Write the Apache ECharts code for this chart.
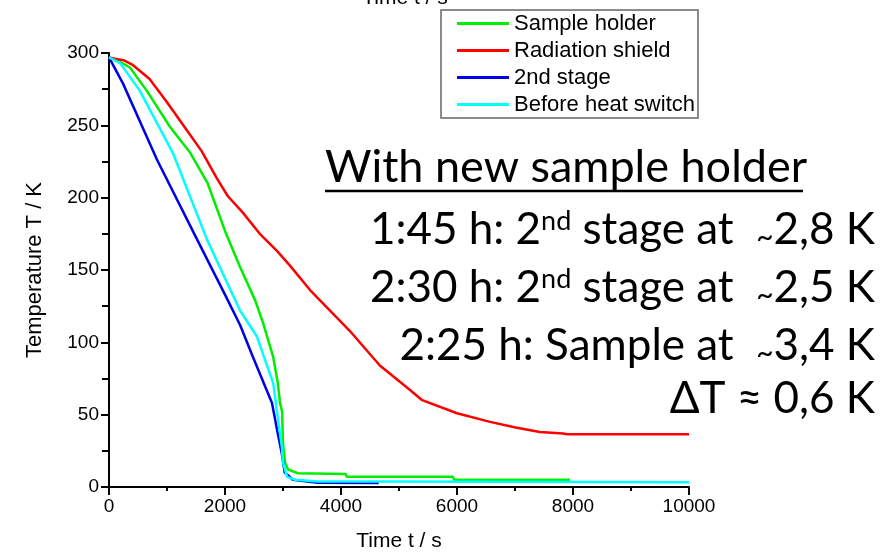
<!DOCTYPE html>
<html>
<head>
<meta charset="utf-8">
<script src="https://cdn.jsdelivr.net/npm/echarts@6/dist/echarts.min.js"></script>
<style>
  html, body { margin: 0; padding: 0; background: #fff; }
  #chart { width: 880px; height: 552px; }
</style>
</head>
<body>
<div id="chart"></div>
<script>
// series names, legend order
const seriesNames = ["Sample holder", "Radiation shield", "2nd stage", "Before heat switch"];

// [time in s, temperature in K]
const sampleHolder = [
    [0, 297], [140, 295], [360, 290], [650, 274], [1050, 249], [1400, 231],
    [1700, 210], [2000, 177], [2250, 153], [2520, 129], [2660, 113], [2830, 90],
    [2910, 72], [2950, 58], [2985, 52], [3000, 30], [3035, 17], [3090, 12],
    [3260, 9.5], [4080, 9], [4100, 7], [5930, 7], [5950, 5], [7950, 5]
];
const radiationShield = [
    [0, 297], [100, 296], [250, 295], [400, 292], [700, 282], [1000, 266],
    [1300, 249], [1600, 232], [1850, 214], [2050, 201], [2300, 190], [2600, 175],
    [2900, 163], [3120, 153], [3470, 136], [3810, 122], [4150, 108], [4670, 84],
    [5190, 67], [5400, 60], [6000, 51], [6570, 45], [7030, 41], [7430, 38],
    [7830, 37], [7900, 36.5], [10000, 36.5]
];
const secondStage = [
    [0, 297], [240, 279], [830, 226], [1520, 171], [2000, 133], [2260, 112],
    [2480, 90], [2810, 58], [2900, 39], [2980, 23], [3030, 10], [3170, 5],
    [3600, 3], [4650, 2.8]
];
const beforeHeatSwitch = [
    [0, 297], [190, 293], [530, 274], [1100, 231], [1690, 171], [2260, 122],
    [2550, 104], [2830, 72], [2910, 48], [2980, 28], [3000, 17], [3070, 7],
    [3210, 5], [3600, 3.8], [4700, 3.8], [4720, 3.3], [10000, 3.3]
];

const colors = ["#00ee00", "#ff0000", "#0000e8", "#00ffff"];
const allData = [sampleHolder, radiationShield, secondStage, beforeHeatSwitch];

const axisFont = "'Liberation Sans', Arial, sans-serif";
const noteFont = "Lato, 'Open Sans', sans-serif";

let myChart = echarts.init(document.getElementById("chart"));

let option = {
    animation: false,
    grid: {
        left: 109,
        right: 191,
        top: 53,
        bottom: 65,
        outerBoundsMode: "none"
    },
    legend: {
        orient: "vertical",
        left: 441,
        top: 10,
        data: seriesNames,
        icon: "rect",
        itemWidth: 52,
        itemHeight: 3,
        itemGap: 0,
        padding: [0, 3, 0, 16],
        borderColor: "#666",
        borderWidth: 1.5,
        textStyle: {
            fontFamily: axisFont,
            fontSize: 22,
            lineHeight: 27,
            color: "#000"
        }
    },
    xAxis: {
        type: "value",
        min: 0,
        max: 10000,
        interval: 2000,
        name: "Time t / s",
        nameLocation: "middle",
        nameGap: 44,
        nameTextStyle: { fontFamily: axisFont, fontSize: 21, color: "#000" },
        axisLine: { lineStyle: { color: "#000", width: 2 } },
        axisTick: { length: 8, lineStyle: { color: "#000", width: 2 } },
        minorTick: { show: true, splitNumber: 2, length: 4, lineStyle: { color: "#000", width: 2 } },
        splitLine: { show: false },
        axisLabel: {
            fontFamily: axisFont, fontSize: 19, color: "#000", margin: 10,
            formatter: v => String(v)
        }
    },
    yAxis: {
        type: "value",
        min: 0,
        max: 300,
        interval: 50,
        name: "Temperature T / K",
        nameLocation: "middle",
        nameGap: 63,
        nameTextStyle: { fontFamily: axisFont, fontSize: 22, color: "#000" },
        axisLine: { show: true, lineStyle: { color: "#000", width: 2 } },
        axisTick: { show: true, length: 8, lineStyle: { color: "#000", width: 2 } },
        minorTick: { show: true, splitNumber: 2, length: 7, lineStyle: { color: "#000", width: 2 } },
        splitLine: { show: false },
        axisLabel: { fontFamily: axisFont, fontSize: 19, color: "#000", margin: 10 }
    },
    series: seriesNames.map((name, i) => ({
        name: name,
        type: "line",
        data: allData[i],
        symbol: "none",
        lineStyle: { color: colors[i], width: 2.5 },
        itemStyle: { color: colors[i] }
    })),
    graphic: [
        // axis title repeated at the top, mostly cut off
        {
            type: "text",
            x: 405,
            y: 9,
            style: {
                text: "Time t / s",
                font: "21px " + axisFont,
                fill: "#000",
                textAlign: "center",
                textVerticalAlign: "bottom"
            }
        },
        {
            type: "text",
            x: 325,
            y: 167,
            style: {
                text: "With new sample holder",
                font: "45px " + noteFont,
                fill: "#000",
                textAlign: "left",
                textVerticalAlign: "middle"
            }
        },
        {
            type: "line",
            shape: { x1: 325, y1: 191, x2: 803, y2: 191 },
            style: { stroke: "#000", lineWidth: 2.5 }
        },
        noteLine("1:45 h: 2{sup|nd} stage at  {tl|~}2,8 K", 230),
        noteLine("2:30 h: 2{sup|nd} stage at  {tl|~}2,5 K", 288),
        noteLine("2:25 h: Sample at  {tl|~}3,4 K", 346),
        noteLine("\u0394T \u2248 0,6 K", 399)
    ]
};

function noteLine(text, y) {
    return {
        type: "text",
        x: 875,
        y: y,
        style: {
            text: text,
            font: "44px " + noteFont,
            fill: "#000",
            textAlign: "right",
            textVerticalAlign: "middle",
            rich: {
                sup: { fontSize: 27, fontFamily: noteFont, verticalAlign: "top", fill: "#000" },
                tl: { fontSize: 30, fontFamily: noteFont, verticalAlign: "bottom", fill: "#000" }
            }
        }
    };
}

myChart.setOption(option);
</script>
</body>
</html>
